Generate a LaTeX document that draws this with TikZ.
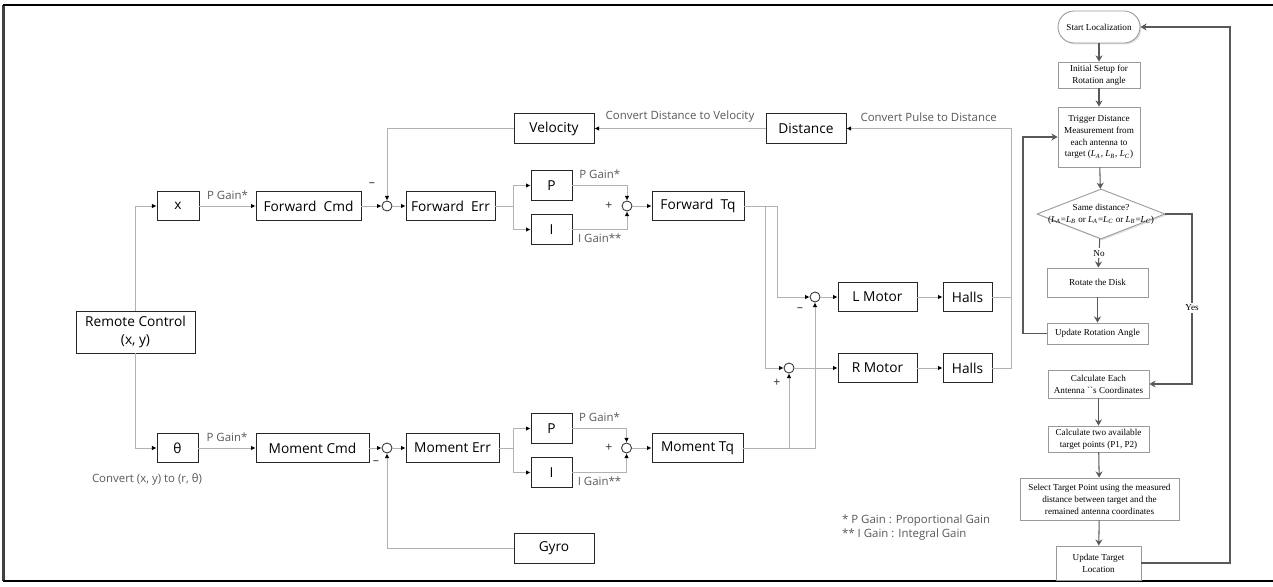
\documentclass[tikz,border=0pt]{standalone}
\usepackage{fontspec}
\setmainfont{Open Sans}
\newfontfamily\flowfont{Liberation Serif}
\usetikzlibrary{arrows.meta,shapes.geometric,shadows}
\newcommand{\lato}[1]{\textit{L}\textsubscript{\textit{#1}}}

\begin{document}
\begin{tikzpicture}[x=0.02cm, y=-0.02cm,
  blocco/.style={draw=black!85, line width=0.5pt, minimum height=0.59cm, inner sep=0pt,
    align=center, font=\fontsize{7.8}{10.5}\selectfont},
  somma/.style={circle, draw=black!80, line width=0.5pt, minimum size=0.2cm, inner sep=0pt},
  filo/.style={draw=black!30, line width=0.5pt},
  segnale/.style={filo, -{Latex[length=2.6pt,width=2.6pt,color=black]}},
  guad/.style={text=black!65, inner sep=1pt, font=\fontsize{6.5}{7.5}\selectfont},
  segno/.style={text=black!80, inner sep=0pt, font=\fontsize{7}{8}\selectfont},
  passo/.style={draw=black!40, fill=white, line width=0.5pt, align=center, inner sep=1pt,
    font=\flowfont\fontsize{5.2}{6.8}\selectfont,
    drop shadow={shadow xshift=0.8pt, shadow yshift=-0.8pt, fill=black!25}},
  flusso/.style={draw=black!65, line width=0.6pt, -{Stealth[length=3.5pt,width=4pt]}}
]
\useasboundingbox (0,0) rectangle (1273,587);

% cornice
\draw[black!75, line width=1.4pt] (3.5,5) -- (3.5,581);
\draw[black, line width=0.8pt] (3,5) -- (1273,5);
\draw[black, line width=0.8pt] (3,581) -- (1273,581);

% ramo avanti
\node[blocco, minimum width=2.38cm, minimum height=0.84cm] (rc) at (135.5,332) {Remote Control\\(x, y)};
\node[blocco, minimum width=0.84cm] (xb) at (178,206) {x};
\node[blocco, minimum width=2.1cm] (fcmd) at (308.5,206) {Forward\ \ Cmd};
\node[somma] (s1) at (387,206) {};
\node[blocco, minimum width=1.78cm] (ferr) at (450.5,206) {Forward\ \ Err};
\node[blocco, minimum width=0.82cm] (pf) at (551.5,185.5) {P};
\node[blocco, minimum width=0.82cm] (if) at (551.5,229.5) {I};
\node[somma] (s2) at (627,206) {};
\node[blocco, minimum width=1.84cm] (ftq) at (698,206) {Forward\ \ Tq};
\node[blocco, minimum width=1.6cm] (vel) at (554,128.5) {Velocity};
\node[blocco, minimum width=1.6cm] (dist) at (806,128.5) {Distance};

% ramo momento
\node[blocco, minimum width=0.82cm] (th) at (177.5,448) {θ};
\node[blocco, minimum width=2.26cm] (mcmd) at (312.5,448) {Moment Cmd};
\node[somma] (s3) at (387,448) {};
\node[blocco, minimum width=1.86cm] (merr) at (452.5,448) {Moment Err};
\node[blocco, minimum width=0.82cm] (pm) at (551.5,428.5) {P};
\node[blocco, minimum width=0.82cm] (im) at (551.5,472.5) {I};
\node[somma] (s4) at (626.5,448) {};
\node[blocco, minimum width=1.82cm] (mtq) at (697.5,448) {Moment Tq};
\node[blocco, minimum width=1.6cm] (gyro) at (554,548.5) {Gyro};

% motori
\node[somma] (sl) at (815,297) {};
\node[blocco, minimum width=1.58cm] (lmot) at (877.5,297) {L Motor};
\node[blocco, minimum width=0.98cm] (hl) at (967.5,297) {Halls};
\node[somma] (sr) at (789,368) {};
\node[blocco, minimum width=1.58cm] (rmot) at (877.5,368) {R Motor};
\node[blocco, minimum width=0.98cm] (hr) at (967.5,368) {Halls};

\coordinate (fb) at (513,206);
\coordinate (mb) at (513,448);
\coordinate (fjr) at (765,206);
\coordinate (fjl) at (777,206);
\coordinate (hfb) at (1011,128.5);

% collegamenti avanti
\draw[segnale] (rc.north) |- (xb.west);
\draw[segnale] (rc.south) |- (th.west);
\draw[segnale] (xb) -- node[guad, above=2.5pt] {P Gain*} (fcmd);
\draw[segnale] (fcmd) -- (s1);
\draw[segnale] (s1) -- (ferr);
\draw[filo] (ferr) -- (fb);
\draw[segnale] (fb) |- (pf.west);
\draw[segnale] (fb) |- (if.west);
\draw[segnale] (pf.east) -| node[guad, above=2.5pt, pos=0.25] {P Gain*} (s2.north);
\draw[segnale] (if.east) -| node[guad, below=1pt, pos=0.25] {I Gain**} (s2.south);
\draw[segnale] (s2) -- (ftq);
\draw[filo] (ftq.east) -- (fjl);
\draw[segnale] (fjl) |- (sl.west);
\draw[segnale] (fjr) |- (sr.west);

% collegamenti momento
\draw[segnale] (th) -- node[guad, above=2.5pt] {P Gain*} (mcmd);
\draw[segnale] (mcmd) -- (s3);
\draw[segnale] (s3) -- (merr);
\draw[filo] (merr) -- (mb);
\draw[segnale] (mb) |- (pm.west);
\draw[segnale] (mb) |- (im.west);
\draw[segnale] (pm.east) -| node[guad, above=2.5pt, pos=0.25] {P Gain*} (s4.north);
\draw[segnale] (im.east) -| node[guad, below=1pt, pos=0.25] {I Gain**} (s4.south);
\draw[segnale] (s4) -- (mtq);
\draw[segnale] (mtq.east) -| (sl.south);
\draw[segnale] (sr.south |- mtq.east) -- (sr.south);
\draw[segnale] (gyro.west) -| (s3.south);

% motori e retroazione
\draw[segnale] (sl) -- (lmot);
\draw[segnale] (lmot) -- (hl);
\draw[segnale] (sr) -- (rmot);
\draw[segnale] (rmot) -- (hr);
\draw[filo] (hl.east) -- (hl.east -| hfb);
\draw[segnale] (hr.east) -| (hfb) -- node[guad, above=2.5pt] {Convert Pulse to Distance} (dist.east);
\draw[segnale] (dist.west) -- node[guad, above=2.5pt] {Convert Distance to Velocity} (vel.east);
\draw[segnale] (vel.west) -| (s1.north);

% segni e note
\node[segno] (meno1) at (372,185) {–};
\node[segno] (piu1) at (609,206) {+};
\node[segno] (meno3) at (376,463) {–};
\node[segno] (piu2) at (609,448) {+};
\node[segno] (menol) at (800,310) {–};
\node[segno] (piur) at (777,383) {+};
\node[guad] (conv) at (147,479) {Convert (x, y) to (r, θ)};
\node[guad, anchor=west, align=left] (nota) at (840,527.5) {* P Gain : Proportional Gain\\** I Gain : Integral Gain};

% diagramma di flusso
\node[passo, rounded corners=0.32cm, minimum width=1.64cm, minimum height=0.64cm] (start) at (1099,27) {Start Localization};
\node[passo, minimum width=1.64cm, minimum height=0.52cm] (init) at (1099,75) {Initial Setup for\\Rotation angle};
\node[passo, minimum width=1.64cm, minimum height=1.2cm] (trig) at (1099,137) {Trigger Distance\\Measurement from\\each antenna to\\target (\lato{A}, \lato{B}, \lato{C})};
\node[passo, diamond, minimum width=2.56cm, minimum height=1cm, inner sep=0pt] (dia) at (1101,214) {};
\node[font=\flowfont\fontsize{5.2}{6.8}\selectfont, align=center, inner sep=0pt] (diat) at (dia) {Same distance?\\(\lato{A}=\lato{B} or \lato{A}=\lato{C} or \lato{B}=\lato{C})};
\node[passo, minimum width=2.02cm, minimum height=0.58cm] (rot) at (1097.5,282.5) {Rotate the Disk};
\node[passo, minimum width=2.02cm, minimum height=0.42cm] (upr) at (1097.5,333.5) {Update Rotation Angle};
\node[passo, minimum width=2.02cm, minimum height=0.56cm] (cea) at (1098.5,384) {Calculate Each\\Antenna ``s Coordinates};
\node[passo, minimum width=2.02cm, minimum height=0.52cm] (ctp) at (1098.5,439) {Calculate two available\\target points (P1, P2)};
\node[passo, minimum width=3.18cm, minimum height=0.84cm] (sel) at (1099.5,499) {Select Target Point using the measured\\distance between target and the\\remained antenna coordinates};
\node[passo, minimum width=1.7cm, minimum height=0.68cm] (utl) at (1098.5,563) {Update Target\\Location};

\coordinate (ritorno) at (1023,333.5);
\coordinate (si) at (1192,300);
\coordinate (giro) at (1230,27);

\draw[flusso] (start) -- (init);
\draw[flusso] (init) -- (trig);
\draw[flusso] (trig) -- (dia);
\draw[flusso] (dia) -- node[fill=white, inner sep=1pt, font=\flowfont\fontsize{5.2}{6.8}\selectfont] {No} (rot);
\draw[flusso] (rot) -- (upr);
\draw[flusso] (upr.west) -- (ritorno) |- (trig.west);
\draw[flusso] (dia.east) -| (si) |- (cea.east);
\node[fill=white, inner sep=1pt, font=\flowfont\fontsize{5.2}{6.8}\selectfont] (yes) at (1192,308) {Yes};
\draw[flusso] (cea) -- (ctp);
\draw[flusso] (ctp) -- (sel);
\draw[flusso] (sel) -- (utl);
\draw[flusso] (utl.east) -| (giro) -- (start.east);

\end{tikzpicture}
\end{document}
